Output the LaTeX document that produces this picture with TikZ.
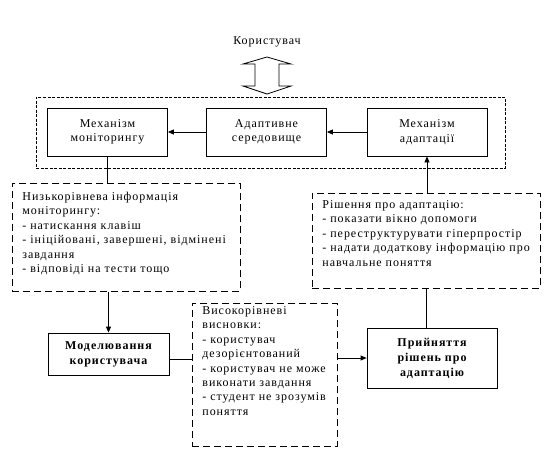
\documentclass[tikz,border=0pt]{standalone}
\usepackage{fontspec}
\setmainfont{Liberation Serif}[LetterSpace=8]
\usetikzlibrary{arrows.meta}
\newcommand{\boxlines}[3]{\parbox[t][#1][t]{#2}{\raggedright\strut #3}}

\begin{document}
\begin{tikzpicture}[x=1pt, y=-1pt,
  font=\fontsize{12}{14.4}\selectfont,
  mech/.style={draw, line width=0.8pt, minimum width=120pt, minimum height=48pt, inner sep=0pt, align=center},
  stage/.style={draw, line width=0.8pt, inner sep=0pt, align=center, font=\fontsize{12}{15}\selectfont\bfseries},
  infobox/.style={draw, line width=0.8pt, dash pattern=on 7pt off 4pt, anchor=north west, inner xsep=10pt, inner ysep=6pt},
  systembox/.style={draw, line width=0.8pt, dash pattern=on 3pt off 1.5pt, inner sep=0pt},
  arr/.style={line width=0.8pt, -{Triangle[length=6pt, width=5pt]}},
  link/.style={line width=0.8pt}]
\useasboundingbox (0,0) rectangle (553,469);

%user
\node (user) at (267,42) {Користувач};
\draw[line width=0.8pt] (267,57)--(291,64)--(279,64)--(279,86)--(291,86)--(267,94)
  --(243,86)--(255,86)--(255,64)--(243,64)--cycle;

%system
\node[systembox, minimum width=469pt, minimum height=71pt] (system) at (270.5,132.5) {};
\node[mech] (mon) at (107.5,132) {Механізм\\моніторингу};
\node[mech] (env) at (266.5,132) {Адаптивне\\середовище};
\node[mech] (adapt) at (427,132) {Механізм\\адаптації};

%info
\node[infobox, inner ysep=7pt] (lowinfo) at (12,183) {\boxlines{94pt}{208pt}{Низькорівнева інформація\\
  моніторингу:\\
  - натискання клавіш\\
  - ініційовані, завершені, відмінені\\
  завдання\\
  - відповіді на тести тощо}};
\node[infobox, inner ysep=5pt] (decinfo) at (312,193) {\boxlines{85pt}{208pt}{Рішення про адаптацію:\\
  - показати вікно допомоги\\
  - переструктурувати гіперпростір\\
  - надати додаткову інформацію про\\
  навчальне поняття}};
\node[infobox, inner ysep=1pt] (highinfo) at (192,303) {\boxlines{141pt}{125pt}{Високорівневі\\
  висновки:\\
  - користувач\\
  дезорієнтований\\
  - користувач не може\\
  виконати завдання\\
  - студент не зрозумів\\
  поняття}};

%stages
\node[stage, minimum width=121pt, minimum height=42pt] (model) at (108.5,354) {Моделювання\\користувача};
\node[stage, minimum width=130pt, minimum height=60pt] (decide) at (432,358) {Прийняття\\рішень про\\адаптацію};

%arrows
\draw[arr] (env.west) -- (mon.east);
\draw[arr] (adapt.west) -- (env.east);
\draw[link] (mon.south) -- (mon.south |- lowinfo.north);
\draw[arr] (model.north |- lowinfo.south) -- (model.north);
\draw[link] ([yshift=-5pt]model.east) -- ([yshift=-5pt]model.east -| highinfo.west);
\draw[arr] (highinfo.east |- decide.west) -- (decide.west);
\draw[link] (decinfo.south) -- (decinfo.south |- decide.north);
\draw[arr] (adapt.south |- decinfo.north) -- (adapt.south);
\end{tikzpicture}
\end{document}
